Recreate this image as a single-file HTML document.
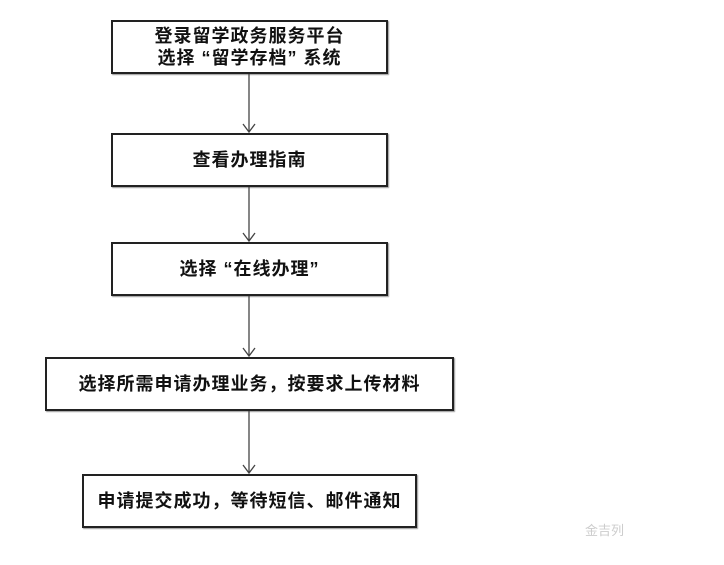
<!DOCTYPE html>
<html><head><meta charset="utf-8"><style>
body{margin:0;width:724px;height:565px;background:#fff;position:relative;overflow:hidden;font-family:"Liberation Sans","Noto Sans CJK SC",sans-serif;}
.b{position:absolute;border:2px solid #222;box-sizing:border-box;display:flex;align-items:center;justify-content:center;text-align:center;font-size:18px;font-weight:bold;color:#111;line-height:22px;letter-spacing:1px;box-shadow:1px 1px 1px #999;}
</style></head><body>
<div class="b" style="left:111px;top:20px;width:277px;height:54px;">登录留学政务服务平台<br>选择 “留学存档” 系统</div>
<div class="b" style="left:111px;top:133px;width:277px;height:54px;">查看办理指南</div>
<div class="b" style="left:111px;top:242px;width:277px;height:54px;">选择 “在线办理”</div>
<div class="b" style="left:45px;top:357px;width:409px;height:54px;">选择所需申请办理业务，按要求上传材料</div>
<div class="b" style="left:82px;top:474px;width:335px;height:54px;">申请提交成功，等待短信、邮件通知</div>
<svg width="724" height="565" style="position:absolute;left:0;top:0" fill="none" stroke="#444" stroke-width="1.3">
<path d="M249 74V132M243 124L249 132L255 124"/>
<path d="M249 187V241M243 233L249 241L255 233"/>
<path d="M249 296V356M243 348L249 356L255 348"/>
<path d="M249 411V473M243 465L249 473L255 465"/>
</svg>
<div style="position:absolute;left:585px;top:520px;font-size:13px;color:#ccc;">金吉列</div>
</body></html>
